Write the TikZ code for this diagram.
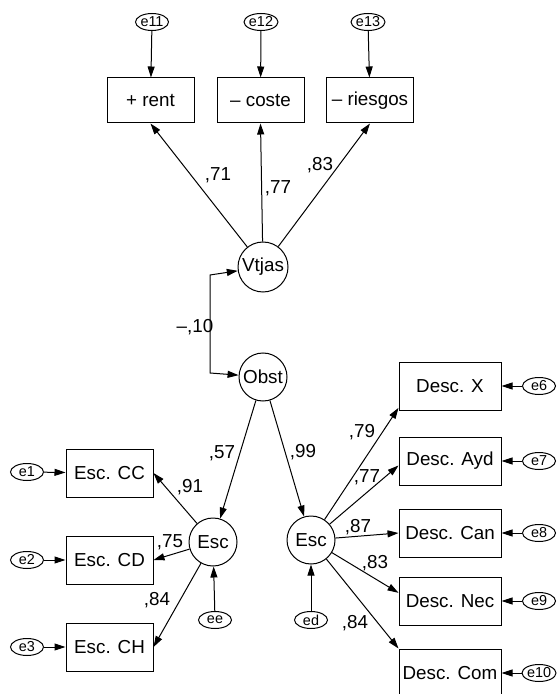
\documentclass[tikz,border=0pt]{standalone}
\usepackage{fontspec}
\setmainfont{Liberation Sans}
\usetikzlibrary{arrows.meta, shapes.geometric}
\begin{document}
\begin{tikzpicture}[x=0.5pt, y=-0.5pt, >={Triangle[length=5.5pt,width=3.5pt]}, line width=0.5pt,
		every node/.style={font=\fontsize{9.4}{10}\selectfont, inner sep=0pt},
		obs/.style={draw, rectangle, minimum width=43.5pt, minimum height=24pt},
		lat/.style={draw, circle, minimum size=24pt},
		err/.style={draw, ellipse, minimum width=16.5pt, minimum height=8.5pt, font=\fontsize{7.2}{8}\selectfont}]
				% 0. 画布范围
				\useasboundingbox (0,0) rectangle (556,694);
				
				% 1. 潜变量
				\node[lat, minimum size=25pt] (Vtjas) at (263,267) {Vtjas};
				\node[lat] (Obst) at (263,377) {Obst};
				\node[lat] (EscL) at (213,542) {Esc};
				\node[lat] (EscR) at (311,540) {Esc};
				
				% 2. 观测变量
				\node[obs, minimum height=22.5pt] (rent) at (150.5,100.5) {+ rent};
				\node[obs, minimum height=22.5pt] (coste) at (260.5,100.5) {– coste};
				\node[obs, minimum height=22.5pt] (riesgos) at (370,100.5) {– riesgos};
				\node[obs] (CC) at (109.5,473) {Esc. CC};
				\node[obs] (CD) at (109.5,560) {Esc. CD};
				\node[obs] (CH) at (109.5,647) {Esc. CH};
				\node[obs, minimum width=51pt] (DescX) at (450,386) {Desc. X};
				\node[obs, minimum width=51pt] (DescAyd) at (450,461) {Desc. Ayd};
				\node[obs, minimum width=51pt] (DescCan) at (450,533) {Desc. Can};
				\node[obs, minimum width=51pt] (DescNec) at (450,601) {Desc. Nec};
				\node[obs, minimum width=51pt] (DescCom) at (450,673) {Desc. Com};
				
				% 3. 误差项
				\node[err] (e11) at (152,22) {e11};
				\node[err] (e12) at (261,22) {e12};
				\node[err] (e13) at (368,22) {e13};
				\node[err] (e1) at (27,472) {e1};
				\node[err] (e2) at (27,560) {e2};
				\node[err] (e3) at (27,647) {e3};
				\node[err] (ee) at (215,620) {ee};
				\node[err] (ed) at (311,620) {ed};
				\node[err] (e6) at (539,386) {e6};
				\node[err] (e7) at (539,461) {e7};
				\node[err] (e8) at (539,533) {e8};
				\node[err] (e9) at (539,601) {e9};
				\node[err] (e10) at (539,673) {e10};
				
				% 4. 路径
				\draw[->] (e11) -- (rent);
				\draw[->] (e12) -- (coste);
				\draw[->] (e13) -- (riesgos);
				\draw[->] (Vtjas) -- (rent.south);
				\draw[->] (Vtjas) -- (coste.south);
				\draw[->] (Vtjas) -- (riesgos.south);
				\coordinate (cA) at (210,275);
				\coordinate (cB) at (210,373);
				\draw[<->] (Vtjas) -- (cA) -- (cB) -- (Obst);
				\draw[->] (Obst) -- (EscL);
				\draw[->] (Obst) -- (EscR);
				\draw[->] (EscL) -- (CC.east);
				\draw[->] (EscL) -- (CD.east);
				\draw[->] (EscL) -- (CH.east);
				\draw[->] (ee) -- (EscL);
				\draw[->] (ed) -- (EscR);
				\draw[->] (e1) -- (CC);
				\draw[->] (e2) -- (CD);
				\draw[->] (e3) -- (CH);
				\draw[->] (EscR) -- (DescX.203);
				\draw[->] (EscR) -- (DescAyd.185);
				\draw[->] (EscR) -- (DescCan.west);
				\draw[->] (EscR) -- (DescNec.171);
				\draw[->] (EscR) -- (DescCom.north west);
				\draw[->] (e6) -- (DescX);
				\draw[->] (e7) -- (DescAyd);
				\draw[->] (e8) -- (DescCan);
				\draw[->] (e9) -- (DescNec);
				\draw[->] (e10) -- (DescCom);
				
				% 5. 系数标签
				\node (lrent) at (218,175) {,71};
				\node (lcoste) at (278,188) {,77};
				\node (lriesgos) at (320,165) {,83};
				\node (lcorr) at (195,327) {–,10};
				\node (lEscL) at (222,453) {,57};
				\node (lEscR) at (303,452) {,99};
				\node (lCC) at (190,487) {,91};
				\node (lCD) at (170,542) {,75};
				\node (lCH) at (157,600) {,84};
				\node (lX) at (362,432) {,79};
				\node (lAyd) at (367,477) {,77};
				\node (lCan) at (358,527) {,87};
				\node (lNec) at (375,563) {,83};
				\node (lCom) at (355,623) {,84};
			\end{tikzpicture}
\end{document}
